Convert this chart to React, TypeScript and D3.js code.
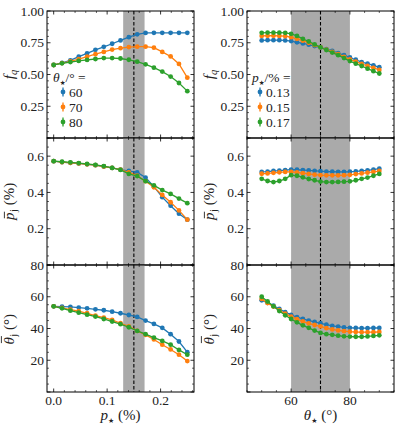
import * as d3 from "d3";

// x grids
const pStar = [0, 0.015625, 0.03125, 0.046875, 0.0625, 0.078125, 0.09375, 0.109375, 0.125,
  0.140625, 0.15625, 0.171875, 0.1875, 0.203125, 0.21875, 0.234375, 0.25];
const thetaStar = [50, 52, 54, 56, 58, 60, 62, 64, 66, 68, 70, 72, 74, 76, 78, 80, 82, 84, 86, 88, 90];

// left column, series by theta_* = 60, 70, 80
const thetaLabels = ["60", "70", "80"];
const fqL60 = [0.575, 0.592, 0.612, 0.64, 0.666, 0.694, 0.718, 0.742, 0.768, 0.794, 0.816, 0.827, 0.828, 0.828, 0.828, 0.828, 0.828];
const fqL70 = [0.575, 0.59, 0.604, 0.621, 0.64, 0.66, 0.678, 0.696, 0.707, 0.716, 0.719, 0.719, 0.711, 0.678, 0.642, 0.583, 0.475];
const fqL80 = [0.575, 0.588, 0.598, 0.607, 0.615, 0.622, 0.629, 0.629, 0.626, 0.616, 0.601, 0.58, 0.554, 0.523, 0.484, 0.433, 0.369];
const pjL60 = [0.572, 0.567, 0.563, 0.56, 0.555, 0.55, 0.543, 0.535, 0.526, 0.518, 0.51, 0.482, 0.432, 0.374, 0.327, 0.283, 0.25];
const pjL70 = [0.572, 0.567, 0.563, 0.56, 0.555, 0.55, 0.543, 0.535, 0.526, 0.51, 0.492, 0.462, 0.428, 0.386, 0.346, 0.301, 0.25];
const pjL80 = [0.572, 0.569, 0.566, 0.562, 0.557, 0.552, 0.545, 0.535, 0.524, 0.502, 0.49, 0.462, 0.439, 0.413, 0.392, 0.366, 0.341];
const thL60 = [54.0, 53.8, 53.6, 53.2, 52.7, 52.1, 51.5, 50.6, 49.6, 48.5, 47.3, 45.0, 42.9, 40.4, 36.4, 31.8, 25.1];
const thL70 = [54.0, 53.0, 51.9, 50.9, 49.6, 48.1, 46.9, 45.4, 43.3, 41.3, 38.5, 36.0, 33.1, 29.8, 26.8, 23.5, 19.5];
const thL80 = [54.0, 52.7, 51.2, 50.0, 48.7, 47.5, 46.0, 44.4, 42.7, 40.8, 38.5, 36.4, 34.3, 32.2, 29.8, 26.5, 23.5];

// right column, series by p_* = 0.13, 0.15, 0.17 %
const pLabels = ["0.13", "0.15", "0.17"];
const fqR13 = [0.768, 0.77, 0.77, 0.77, 0.768, 0.763, 0.753, 0.745, 0.735, 0.724, 0.712, 0.699, 0.686, 0.668, 0.652, 0.634, 0.616, 0.598, 0.585, 0.572, 0.557];
const fqR15 = [0.804, 0.805, 0.805, 0.804, 0.802, 0.794, 0.781, 0.766, 0.75, 0.732, 0.714, 0.696, 0.678, 0.66, 0.639, 0.619, 0.601, 0.583, 0.567, 0.552, 0.536];
const fqR17 = [0.828, 0.83, 0.83, 0.829, 0.828, 0.82, 0.804, 0.781, 0.76, 0.737, 0.714, 0.693, 0.673, 0.652, 0.629, 0.606, 0.585, 0.567, 0.546, 0.526, 0.508];
const pjR13 = [0.513, 0.515, 0.518, 0.52, 0.523, 0.526, 0.525, 0.523, 0.521, 0.519, 0.517, 0.515, 0.514, 0.513, 0.513, 0.514, 0.516, 0.519, 0.522, 0.526, 0.531];
const pjR15 = [0.503, 0.505, 0.508, 0.511, 0.513, 0.513, 0.51, 0.506, 0.502, 0.498, 0.495, 0.494, 0.494, 0.494, 0.495, 0.497, 0.501, 0.505, 0.509, 0.513, 0.518];
const pjR17 = [0.475, 0.463, 0.457, 0.463, 0.475, 0.495, 0.492, 0.483, 0.474, 0.467, 0.46, 0.457, 0.457, 0.458, 0.459, 0.461, 0.467, 0.475, 0.482, 0.492, 0.502];
const thR13 = [57.8, 56.2, 54.4, 52.3, 50.3, 48.6, 47.1, 46.0, 45.0, 44.1, 43.3, 42.4, 41.6, 41.2, 40.7, 40.4, 40.3, 40.2, 40.2, 40.3, 40.3];
const thR15 = [58.6, 56.0, 53.8, 51.5, 49.4, 47.5, 45.9, 44.4, 43.2, 42.2, 41.3, 40.2, 39.4, 38.8, 38.3, 38.0, 37.8, 37.7, 37.7, 37.7, 37.8];
const thR17 = [60.0, 57.0, 54.0, 51.0, 48.3, 46.0, 43.9, 42.0, 40.4, 38.7, 37.2, 36.4, 36.0, 35.5, 35.1, 34.9, 34.8, 34.8, 35.0, 35.3, 35.7];

const colors = ["#1f77b4", "#ff7f0e", "#2ca02c"];
const FONT = "'Liberation Serif', 'DejaVu Serif', serif";
const STAR_FONT = "'DejaVu Sans', sans-serif";

const cols = [
  { x0: 47, x1: 194, domain: [-0.0125, 0.2625], major: 0.1, minor: 0.02, fmt: d3.format(".1f"),
    xs: pStar, shade: [0.13, 0.17], dash: 0.15,
    rows: [[fqL60, fqL70, fqL80], [pjL60, pjL70, pjL80], [thL60, thL70, thL80]] },
  { x0: 247, x1: 394, domain: [45, 95], major: 20, minor: 5, fmt: d3.format("d"),
    xs: thetaStar, shade: [60, 80], dash: 70,
    rows: [[fqR13, fqR15, fqR17], [pjR13, pjR15, pjR17], [thR13, thR15, thR17]] },
];

const rows = [
  { y0: 11, y1: 138, domain: [0, 1], major: 0.25, minor: 0.05, fmt: d3.format(".2f") },
  { y0: 138, y1: 265, domain: [0, 0.7], major: 0.2, minor: 0.05, fmt: d3.format(".1f") },
  { y0: 265, y1: 392, domain: [0, 80], major: 20, minor: 5, fmt: d3.format("d") },
];

const ticksIn = (lo: number, hi: number, step: number) => {
  const out: number[] = [];
  const start = Math.ceil(lo / step - 1e-9);
  for (let k = start; k * step <= hi + 1e-9; k++) out.push(+(k * step).toFixed(6));
  return out;
};

const Panel = ({ c, r, ri }: any) => {
  const x = d3.scaleLinear().domain(c.domain).range([c.x0, c.x1]);
  const y = d3.scaleLinear().domain(r.domain).range([r.y1, r.y0]);
  const line = d3.line<number>().x((_, i) => x(c.xs[i])).y((d) => y(d));
  const xMaj = ticksIn(c.domain[0], c.domain[1], c.major);
  const xMin = ticksIn(c.domain[0], c.domain[1], c.minor).filter((v) => !xMaj.some((m) => Math.abs(m - v) < 1e-6));
  const yMaj = ticksIn(r.domain[0], r.domain[1], r.major);
  const yMin = ticksIn(r.domain[0], r.domain[1], r.minor).filter((v) => !yMaj.some((m) => Math.abs(m - v) < 1e-6));
  const series = c.rows[ri];
  return (
    <g>
      <rect x={x(c.shade[0])} y={r.y0} width={x(c.shade[1]) - x(c.shade[0])} height={r.y1 - r.y0} fill="#aaaaaa" />
      <line x1={x(c.dash)} x2={x(c.dash)} y1={r.y0} y2={r.y1} stroke="#000" strokeWidth={1.1} strokeDasharray="3.5,2" />
      {series.map((s: number[], si: number) => (
        <g key={si}>
          <path d={line(s) || ""} fill="none" stroke={colors[si]} strokeWidth={1.3} />
          {s.map((v, i) => (
            <circle key={i} cx={x(c.xs[i])} cy={y(v)} r={2.4} fill={colors[si]} />
          ))}
        </g>
      ))}
      {/* ticks, inward on all sides */}
      {xMaj.map((v) => (
        <g key={"xM" + v}>
          <line x1={x(v)} x2={x(v)} y1={r.y1} y2={r.y1 - 3.5} stroke="#000" strokeWidth={0.8} />
          <line x1={x(v)} x2={x(v)} y1={r.y0} y2={r.y0 + 3.5} stroke="#000" strokeWidth={0.8} />
        </g>
      ))}
      {xMin.map((v) => (
        <g key={"xm" + v}>
          <line x1={x(v)} x2={x(v)} y1={r.y1} y2={r.y1 - 2} stroke="#000" strokeWidth={0.6} />
          <line x1={x(v)} x2={x(v)} y1={r.y0} y2={r.y0 + 2} stroke="#000" strokeWidth={0.6} />
        </g>
      ))}
      {yMaj.map((v) => (
        <g key={"yM" + v}>
          <line x1={c.x0} x2={c.x0 + 3.5} y1={y(v)} y2={y(v)} stroke="#000" strokeWidth={0.8} />
          <line x1={c.x1} x2={c.x1 - 3.5} y1={y(v)} y2={y(v)} stroke="#000" strokeWidth={0.8} />
        </g>
      ))}
      {yMin.map((v) => (
        <g key={"ym" + v}>
          <line x1={c.x0} x2={c.x0 + 2} y1={y(v)} y2={y(v)} stroke="#000" strokeWidth={0.6} />
          <line x1={c.x1} x2={c.x1 - 2} y1={y(v)} y2={y(v)} stroke="#000" strokeWidth={0.6} />
        </g>
      ))}
      {yMaj.filter((v) => v !== 0).map((v) => (
        <text key={"yl" + v} x={c.x0 - 3} y={y(v)} dy="0.34em" textAnchor="end" fontSize={13.5} fontFamily={FONT} fill="#222">
          {r.fmt(v)}
        </text>
      ))}
      {ri === 2 && xMaj.map((v) => (
        <text key={"xl" + v} x={x(v)} y={r.y1 + 13} textAnchor="middle" fontSize={13.5} fontFamily={FONT} fill="#222">
          {c.fmt(v)}
        </text>
      ))}
      <rect x={c.x0} y={r.y0} width={c.x1 - c.x0} height={r.y1 - r.y0} fill="none" stroke="#000" strokeWidth={1} />
    </g>
  );
};

const Star = ({ size, dy }: any) => (
  <tspan fontFamily={STAR_FONT} fontSize={size} dy={dy}>★</tspan>
);

const Legend = ({ x, tx, sym, unit, labels }: any) => (
  <g fontFamily={FONT} fontSize={13.5} fill="#222">
    <text x={tx} y={82}>
      <tspan fontStyle="italic">{sym}</tspan><Star size={6.5} dy={2.5} /><tspan dy={-2.5}>{unit}</tspan>
    </text>
    {labels.map((l: string, i: number) => {
      const yy = 92 + i * 15;
      return (
        <g key={l}>
          <line x1={x} x2={x} y1={yy - 4.5} y2={yy + 4.5} stroke={colors[i]} strokeWidth={1.3} />
          <circle cx={x} cy={yy} r={2.4} fill={colors[i]} />
          <text x={x + 6} y={yy + 4.5}>{l}</text>
        </g>
      );
    })}
  </g>
);

// rotated axis labels; text starts at -w/2 so the overbar can be placed over the first glyph
const YLabels = ({ dx }: any) => (
  <g transform={`translate(${dx},0)`} fontSize={15} fill="#222" fontFamily={FONT}>
    <text transform="translate(14,74.5) rotate(-90)" textAnchor="middle">
      <tspan fontStyle="italic">f</tspan><tspan fontStyle="italic" fontSize={10.5} dy={3}>q</tspan>
    </text>
    <g transform="translate(14,201.5) rotate(-90)">
      <text x={-18.5}>
        <tspan fontStyle="italic">p</tspan>
        <tspan fontSize={10.5} dy={3} dx={0.5}>j</tspan><tspan dy={-3}> (%)</tspan>
      </text>
      <line x1={-16.8} x2={-10.2} y1={-9.6} y2={-9.6} stroke="#222" strokeWidth={0.9} />
    </g>
    <g transform="translate(14,328.5) rotate(-90)">
      <text x={-16}>
        <tspan fontStyle="italic">θ</tspan>
        <tspan fontSize={10.5} dy={3} dx={0.5}>j</tspan><tspan dy={-3}> (°)</tspan>
      </text>
      <line x1={-14.6} x2={-7.6} y1={-12.6} y2={-12.6} stroke="#222" strokeWidth={0.9} />
    </g>
  </g>
);

export default function App() {
  return (
    <svg width={399} height={429} style={{ display: "block", position: "absolute", left: 0, top: 0 }}>
      <rect width={399} height={429} fill="#fff" />
      {cols.map((c, ci) => rows.map((r, ri) => <Panel key={ci + "-" + ri} c={c} r={r} ri={ri} />))}
      <Legend x={63} tx={53} sym="θ" unit="/° =" labels={thetaLabels} />
      <Legend x={260} tx={252} sym="p" unit="/% =" labels={pLabels} />
      <YLabels dx={0} />
      <YLabels dx={200} />
      <text x={120.5} y={420} textAnchor="middle" fontSize={15} fontFamily={FONT} fill="#222">
        <tspan fontStyle="italic">p</tspan><Star size={7} dy={2.5} /><tspan dy={-2.5}> (%)</tspan>
      </text>
      <text x={320.5} y={420} textAnchor="middle" fontSize={15} fontFamily={FONT} fill="#222">
        <tspan fontStyle="italic">θ</tspan><Star size={7} dy={2.5} /><tspan dy={-2.5}> (°)</tspan>
      </text>
    </svg>
  );
}
